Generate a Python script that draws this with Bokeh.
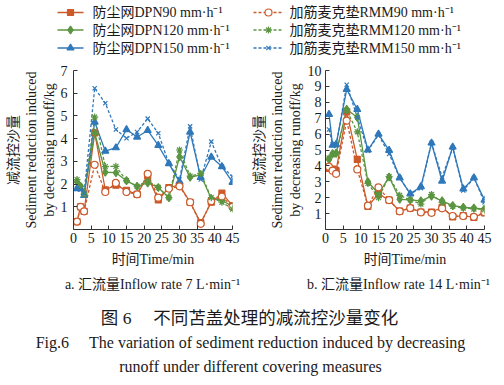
from bokeh.plotting import figure
from bokeh.layouts import column, row
from bokeh.models import Range1d, FixedTicker
from bokeh.core.properties import value
from bokeh.embed import file_html
from bokeh.resources import INLINE

SERIF = "'Liberation Serif', 'Noto Sans CJK SC', serif"

# ---------------- data ----------------
time_min = [1, 2, 3, 6, 9, 12, 15, 18, 21, 24, 27, 30, 33, 36, 39, 42, 45]

# (a) inflow rate 7 L/min
a_dpn90 = [0.35, 1.0, 0.8, 4.25, 1.75, 1.95, 1.72, 1.55, 2.35, 1.3, 1.85, 1.95, 1.2, 0.3, 1.2, 1.6, 1.05]
a_rmm90 = [0.35, 1.0, 0.8, 2.85, 1.65, 2.05, 1.65, 1.55, 2.45, 1.4, 1.8, 1.9, 1.2, 0.25, 1.25, 1.45, 1.0]
a_dpn120 = [2.1, 1.9, 1.6, 4.25, 2.52, 2.5, 2.15, 1.9, 2.05, 1.85, 1.4, 3.2, 2.3, 2.4, 1.35, 1.3, 1.0]
a_rmm120 = [2.2, 1.9, 1.55, 4.95, 2.77, 2.78, 2.15, 1.9, 2.15, 1.85, 1.4, 3.5, 2.35, 2.47, 1.4, 1.2, 0.9]
a_dpn150 = [1.8, 1.8, 1.5, 4.73, 3.45, 3.6, 4.4, 4.07, 4.36, 3.7, 2.9, 2.1, 4.29, 2.3, 3.19, 2.77, 2.08]
a_rmm150 = [1.8, 1.75, 1.6, 6.22, 5.56, 4.4, 4.02, 4.29, 4.88, 4.24, 2.9, 2.2, 4.54, 2.2, 3.87, 2.77, 2.33]

# (b) inflow rate 14 L/min
b_dpn90 = [3.85, 3.8, 3.7, 7.4, 4.41, 1.45, 2.25, 1.85, 1.15, 1.35, 1.1, 1.1, 1.4, 0.8, 0.87, 0.76, 1.05]
b_rmm90 = [3.95, 3.7, 3.5, 6.85, 3.78, 1.5, 2.65, 1.85, 1.14, 1.35, 1.08, 1.05, 1.33, 0.85, 0.85, 0.8, 1.08]
b_dpn120 = [4.4, 4.77, 4.8, 7.56, 7.05, 3.0, 2.25, 3.3, 1.9, 1.86, 1.8, 2.1, 1.8, 1.5, 1.4, 1.35, 1.3]
b_rmm120 = [4.5, 4.7, 4.75, 7.5, 6.14, 2.9, 2.0, 3.33, 2.15, 1.86, 1.6, 2.2, 1.71, 1.45, 1.35, 1.29, 1.25]
b_dpn150 = [7.24, 5.3, 5.35, 8.82, 7.55, 5.0, 6.0, 4.98, 3.25, 2.24, 2.7, 5.44, 3.05, 5.19, 2.55, 3.25, 1.85]
b_rmm150 = [6.29, 5.35, 5.25, 9.1, 7.05, 4.95, 5.95, 4.75, 3.25, 2.24, 2.6, 5.44, 3.3, 5.15, 2.45, 3.25, 1.71]

series_names = [
    "防尘网DPN90 mm·h⁻¹", "防尘网DPN120 mm·h⁻¹", "防尘网DPN150 mm·h⁻¹",
    "加筋麦克垫RMM90 mm·h⁻¹", "加筋麦克垫RMM120 mm·h⁻¹", "加筋麦克垫RMM150 mm·h⁻¹",
]
x_ticks = [0, 5, 10, 15, 20, 25, 30, 35, 40, 45]
a_y_ticks = [1, 2, 3, 4, 5, 6, 7]
b_y_ticks = [1, 2, 3, 4, 5, 6, 7, 8, 9, 10]

# ---------------- styles ----------------
RED = "#CC5A2A"
GREEN = "#5B9541"
BLUE = "#2F78BA"
styles = [
    dict(color=RED, dash="solid", marker="square", size=6, fill=RED),
    dict(color=GREEN, dash="solid", marker="diamond", size=8, fill=GREEN),
    dict(color=BLUE, dash="solid", marker="triangle", size=7, fill=BLUE),
    dict(color=RED, dash="3 2", marker="circle", size=7, fill="white"),
    dict(color=GREEN, dash="3 2", marker="asterisk", size=7, fill=GREEN),
    dict(color=BLUE, dash="3 2", marker="x", size=6, fill=BLUE),
]
TXT = "#1a1a1a"
PLOT_H = 215


def make_plot(width, border_left, border_right, ys, y_max, y_ticks, label_standoff, tick_standoff):
    p = figure(width=width, height=PLOT_H, frame_width=159, frame_height=159,
               min_border_left=border_left, min_border_right=border_right,
               min_border_top=10, min_border_bottom=PLOT_H - 169,
               x_range=Range1d(0, 45), y_range=Range1d(0, y_max),
               toolbar_location=None, output_backend="svg")
    p.xgrid.visible = False
    p.ygrid.visible = False
    p.outline_line_color = None
    p.background_fill_color = None
    p.border_fill_color = None
    p.xaxis.ticker = FixedTicker(ticks=x_ticks)
    p.yaxis.ticker = FixedTicker(ticks=y_ticks)
    for ax in (p.xaxis[0], p.yaxis[0]):
        ax.axis_line_color = "#333333"
        ax.major_tick_line_color = "#333333"
        ax.major_tick_in = 4
        ax.major_tick_out = 0
        ax.minor_tick_line_color = None
        ax.major_label_text_font = SERIF
        ax.major_label_text_font_size = "14px"
        ax.major_label_text_color = TXT
        ax.axis_label_text_font = SERIF
        ax.axis_label_text_font_size = "14px"
        ax.axis_label_text_font_style = "normal"
        ax.axis_label_text_color = TXT
    p.xaxis.major_label_standoff = 3
    p.xaxis.axis_label = "时间Time/min"
    p.xaxis.axis_label_standoff = 6
    p.yaxis.major_label_standoff = tick_standoff
    p.yaxis.axis_label = "减流控沙量\nSediment reduction induced\nby decreasing runoff/kg"
    p.yaxis.axis_label_standoff = label_standoff
    for vals, st in zip(ys, styles):
        p.line(time_min, vals, line_color=st["color"], line_width=1.3, line_dash=st["dash"])
    for vals, st in zip(ys, styles):
        p.scatter(time_min, vals, marker=st["marker"], size=st["size"],
                  line_color=st["color"], fill_color=st["fill"], line_width=1.2)
    return p


fig_a = make_plot(248, 73, 16, [a_dpn90, a_dpn120, a_dpn150, a_rmm90, a_rmm120, a_rmm150],
                  7, a_y_ticks, 1, 6)
fig_b = make_plot(256, 73, 24, [b_dpn90, b_dpn120, b_dpn150, b_rmm90, b_rmm120, b_rmm150],
                  10, b_y_ticks, 2, 4)

# ---------------- legend ----------------
LH = 60
leg = figure(width=504, height=LH, x_range=Range1d(0, 504), y_range=Range1d(LH, 0),
             min_border=0, x_axis_location=None, y_axis_location=None,
             toolbar_location=None, output_backend="svg")
leg.grid.visible = False
leg.outline_line_color = None
row_y = [12, 29.5, 47.5]
for i, (name, st) in enumerate(zip(series_names, styles)):
    col = i // 3
    ry = row_y[i % 3]
    x0, x1, xm, xt = (57, 83, 70, 92) if col == 0 else (253, 283, 268, 289)
    leg.line([x0, x1], [ry, ry], line_color=st["color"], line_width=1.3, line_dash=st["dash"])
    leg.scatter([xm], [ry], marker=st["marker"], size=st["size"],
                line_color=st["color"], fill_color=st["fill"], line_width=1.2)
    leg.text([xt], [ry], text=[name], text_font=value(SERIF), text_font_size=value("14px"),
             text_baseline="middle", text_align="left", text_color=TXT)

# ---------------- captions ----------------
CT = LH + PLOT_H
CH = 385 - CT
cap = figure(width=504, height=CH, x_range=Range1d(0, 504), y_range=Range1d(CT + CH, CT),
             min_border=0, x_axis_location=None, y_axis_location=None,
             toolbar_location=None, output_backend="svg")
cap.grid.visible = False
cap.outline_line_color = None
cap.text([152, 398], [284, 284],
         text=["a. 汇流量Inflow rate 7 L·min⁻¹", "b. 汇流量Inflow rate 14 L·min⁻¹"],
         text_font=value(SERIF), text_font_size=value("14px"),
         text_baseline="middle", text_align="center", text_color=TXT)
cap.text([249], [317], text=["图\u00a06\u3000\u00a0不同苫盖处理的减流控沙量变化"],
         text_font=value(SERIF), text_font_size=value("17.5px"),
         text_baseline="middle", text_align="center", text_color=TXT)
cap.text([250, 250], [342, 366],
         text=["Fig.6\u2003\u00a0The variation of sediment reduction induced by decreasing",
               "runoff under different covering measures"],
         text_font=value(SERIF), text_font_size=value("16px"),
         text_baseline="middle", text_align="center", text_color=TXT)

layout = column(leg, row(fig_a, fig_b), cap)

open("out.html", "w").write(file_html(layout, INLINE))
